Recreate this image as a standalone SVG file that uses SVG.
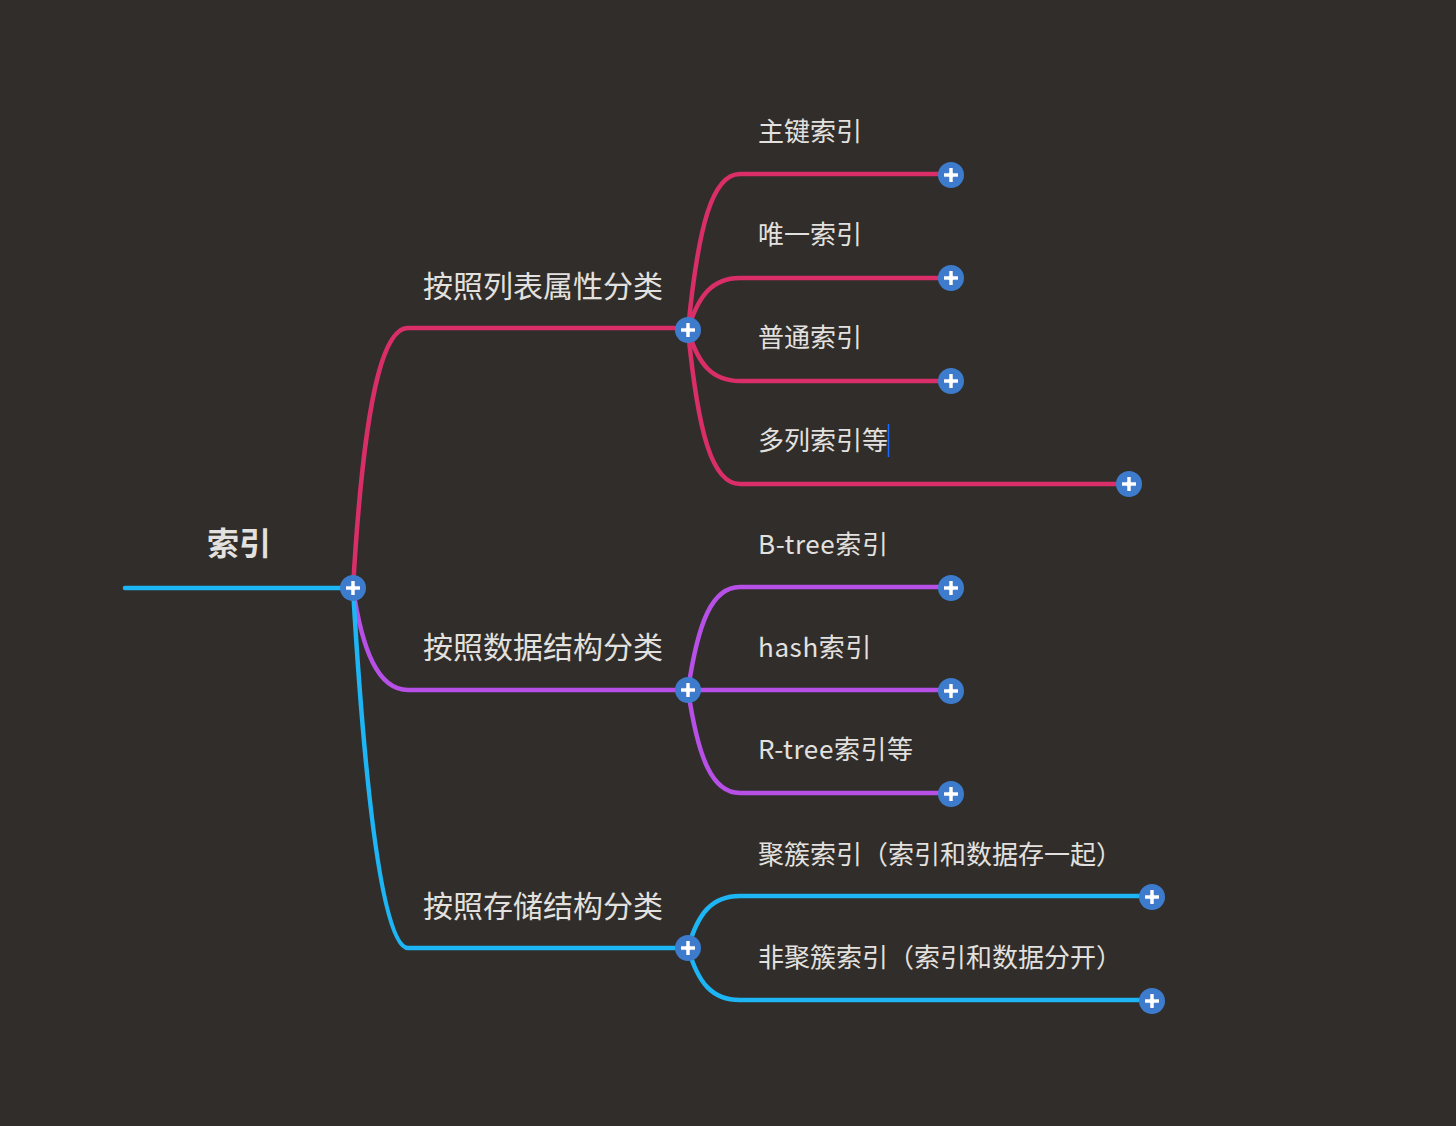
<svg xmlns="http://www.w3.org/2000/svg" xmlns:xlink="http://www.w3.org/1999/xlink" width="1456" height="1126" viewBox="0 0 1456 1126">
<style>
.bg{fill:#312d2b}
.l{fill:none;stroke-width:4.5;stroke-linecap:round}
.pk{stroke:#d92e67}
.pu{stroke:#b750e6}
.cy{stroke:#1db5f4}
text{font-family:"Noto Sans CJK SC","Liberation Sans",sans-serif;fill:#e3e1df}
.t0{font-size:32px;font-weight:bold}
.t1{font-size:30px}
.t2{font-size:26px}
.lat{letter-spacing:0.6px}
</style>
<defs>
<g id="plus">
<circle r="13" fill="#3d7ccc"/>
<path d="M-2.2,-7.5h4.4v5.3h5.3v4.4h-5.3v5.3h-4.4v-5.3h-5.3v-4.4h5.3z" fill="#fff" stroke="#2a63c4" stroke-width="0.8"/>
</g>
</defs>
<rect class="bg" x="0" y="0" width="1456" height="1126"/>
<g id="connectors">
<path class="l cy" d="M125,588H353"/>
<path class="l pk" d="M353,588C363,416 380,328 408,328H688"/>
<path class="l pu" d="M353,588C362,650 378,690 408,690H688"/>
<path class="l cy" d="M353,588C363,760 380,948 408,948H688"/>
<path class="l pk" d="M688,330C698,227 712,174 740,174H951"/>
<path class="l pk" d="M688,330C698,296 712,278 740,278H951"/>
<path class="l pk" d="M688,330C698,364 712,381 740,381H951"/>
<path class="l pk" d="M688,330C698,433 712,484 740,484H1129"/>
<path class="l pu" d="M688,690C698,622 712,587 740,587H951"/>
<path class="l pu" d="M688,690H951"/>
<path class="l pu" d="M688,690C698,758 712,793 740,793H951"/>
<path class="l cy" d="M688,948C698,913 712,896 740,896H1152"/>
<path class="l cy" d="M688,948C698,983 712,1000 740,1000H1152"/>
</g>
<g id="n-root"><text class="t0" x="239" y="555" text-anchor="middle">索引</text><use xlink:href="#plus" x="353" y="588"/></g>
<g id="n-a"><text class="t1" x="423" y="297">按照列表属性分类</text><use xlink:href="#plus" x="688" y="330"/></g>
<g id="n-b"><text class="t1" x="423" y="658">按照数据结构分类</text><use xlink:href="#plus" x="688" y="690"/></g>
<g id="n-c"><text class="t1" x="423" y="917">按照存储结构分类</text><use xlink:href="#plus" x="688" y="948"/></g>
<g id="n-a1"><text class="t2" x="758" y="141">主键索引</text><use xlink:href="#plus" x="951" y="175"/></g>
<g id="n-a2"><text class="t2" x="758" y="244">唯一索引</text><use xlink:href="#plus" x="951" y="278"/></g>
<g id="n-a3"><text class="t2" x="758" y="347">普通索引</text><use xlink:href="#plus" x="951" y="381"/></g>
<g id="n-a4"><text class="t2" x="758" y="450">多列索引等</text><line x1="888.5" y1="424" x2="888.5" y2="457" stroke="#1a6dff" stroke-width="1.5"/><use xlink:href="#plus" x="1129" y="484"/></g>
<g id="n-b1"><text class="t2 lat" x="758" y="554">B-tree索引</text><use xlink:href="#plus" x="951" y="588"/></g>
<g id="n-b2"><text class="t2 lat" x="758" y="657">hash索引</text><use xlink:href="#plus" x="951" y="691"/></g>
<g id="n-b3"><text class="t2 lat" x="758" y="759">R-tree索引等</text><use xlink:href="#plus" x="951" y="794"/></g>
<g id="n-c1"><text class="t2" x="758" y="864">聚簇索引（索引和数据存一起）</text><use xlink:href="#plus" x="1152" y="897"/></g>
<g id="n-c2"><text class="t2" x="758" y="967">非聚簇索引（索引和数据分开）</text><use xlink:href="#plus" x="1152" y="1001"/></g>
</svg>
